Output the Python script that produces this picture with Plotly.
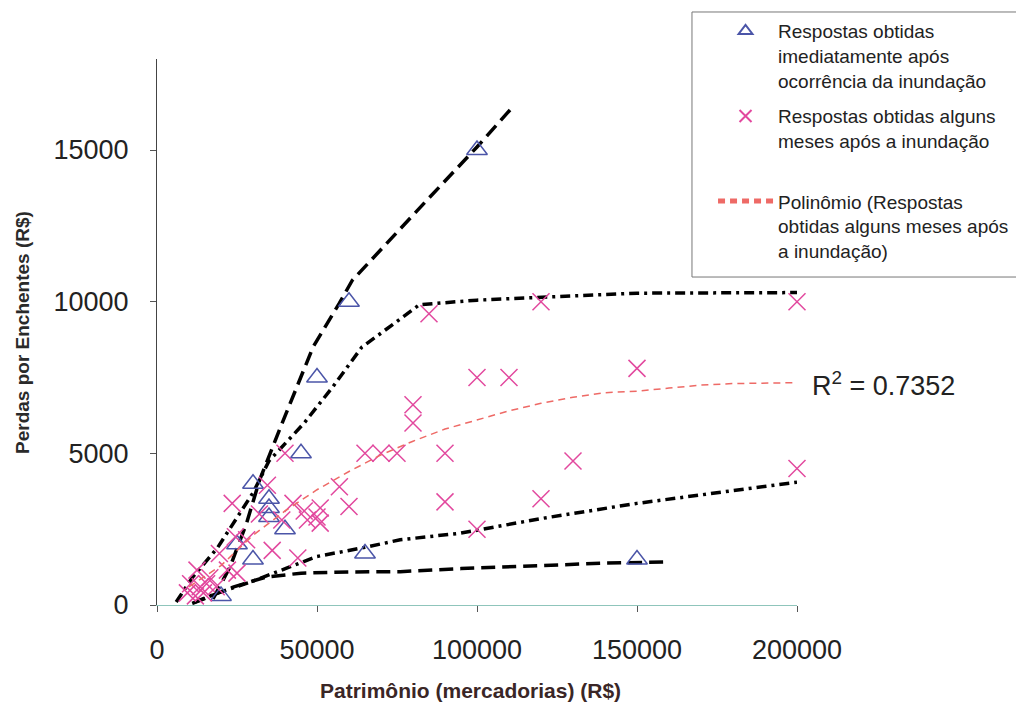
import plotly.graph_objects as go

# ---- data ----
tri_x = [20000, 25000, 30000, 30000, 35000, 35000, 35000, 40000, 45000, 50000, 60000, 65000, 100000, 150000]
tri_y = [300, 2000, 1500, 4000, 3500, 3200, 2900, 2500, 5000, 7500, 10000, 1700, 15000, 1500]

crs_x = [200000, 200000, 150000, 130000, 120000, 120000, 110000, 100000, 100000, 90000,
         90000, 85000, 80000, 80000, 75000, 70000, 65000, 60000, 57000, 51000,
         50000, 46000, 42500, 40000, 39000, 47000, 51000, 34500, 32000, 23500,
         28000, 24500, 36000, 44000, 25000, 19500, 22000, 16500, 12500, 10500,
         13500, 14500, 9500, 18500, 12000, 15500]
crs_y = [10000, 4500, 7800, 4750, 10000, 3500, 7500, 7500, 2500, 5000,
         3400, 9600, 6600, 6000, 5000, 5000, 5000, 3250, 3900, 3200,
         2900, 3100, 3350, 5000, 2800, 2800, 2700, 3950, 3000, 3350,
         2150, 2250, 1800, 1550, 1050, 1700, 1150, 900, 1150, 700,
         600, 400, 400, 600, 300, 700]

trend_x = [10000, 20000, 30000, 40000, 50000, 60000, 70000, 80000, 90000, 100000,
           110000, 120000, 130000, 140000, 150000, 160000, 170000, 180000, 190000, 200000]
trend_y = [600, 1300, 2300, 3100, 3800, 4400, 4950, 5400, 5800, 6100,
           6400, 6650, 6850, 7000, 7050, 7150, 7250, 7300, 7320, 7330]

upA_x = [17500, 22800, 28000, 32000, 38750, 48750, 57000, 61000, 84400, 100000, 111000]
upA_y = [200, 1250, 2700, 4100, 5900, 8500, 9950, 10700, 13350, 15100, 16400]

upB_x = [6000, 11000, 19000, 24500, 30000, 35000, 46000, 55000, 64000, 70500, 82000, 100000, 120000, 150000, 200000]
upB_y = [100, 900, 1900, 2800, 3700, 4750, 6000, 7200, 8500, 9000, 9900, 10050, 10150, 10280, 10300]

lowC_x = [12000, 19000, 29000, 45000, 50000, 65000, 76000, 95000, 120000, 150000, 175000, 200000]
lowC_y = [100, 400, 750, 1400, 1600, 1900, 2150, 2370, 2850, 3350, 3700, 4050]

lowD_x = [11000, 17000, 24000, 34000, 45000, 60000, 76000, 95000, 120000, 140000, 159000]
lowD_y = [50, 300, 600, 920, 1050, 1090, 1100, 1200, 1300, 1380, 1420]

x_ticks = [0, 50000, 100000, 150000, 200000]
y_ticks = [0, 5000, 10000, 15000]

name_tri = "Respostas obtidas<br>imediatamente após<br>ocorrência da inundação"
name_crs = "Respostas obtidas alguns<br>meses após a inundação<br> "
name_trend = "Polinômio (Respostas<br>obtidas alguns meses após<br>a inundação)"

FONT = "Arial, Liberation Sans, sans-serif"
BLUE = "#4b55a8"
PINK = "#e2489e"
RED = "#ee6a66"

fig = go.Figure()

for xs, ys, dash in [(upA_x, upA_y, "14px,7px"), (upB_x, upB_y, "10px,5px,3px,5px"),
                     (lowC_x, lowC_y, "10px,5px,3px,5px"), (lowD_x, lowD_y, "14px,7px")]:
    fig.add_trace(go.Scatter(x=xs, y=ys, mode="lines", showlegend=False,
                             line=dict(color="black", width=3.5, dash=dash),
                             cliponaxis=False, hoverinfo="skip"))

fig.add_trace(go.Scatter(x=tri_x, y=tri_y, mode="markers", name=name_tri, legendgroup="a",
                         marker=dict(symbol="triangle-up-open", size=18, color=BLUE,
                                     line=dict(width=1.5, color=BLUE)),
                         cliponaxis=False))
fig.add_trace(go.Scatter(x=crs_x, y=crs_y, mode="markers", name=name_crs, legendgroup="b",
                         marker=dict(symbol="x-thin-open", size=17, color=PINK,
                                     line=dict(width=1.5, color=PINK)),
                         cliponaxis=False))
fig.add_trace(go.Scatter(x=trend_x, y=trend_y, mode="lines", name=name_trend, legendgroup="c",
                         line=dict(color=RED, width=1.5, dash="7px,5px"),
                         cliponaxis=False))

# figure sits at an 8px page offset; plot area in figure pixels: x 149..789, y 51..597
fig.update_layout(
    width=1016, height=698,
    margin=dict(l=149, r=227, t=51, b=101, autoexpand=False),
    plot_bgcolor="white", paper_bgcolor="white",
    font=dict(family=FONT, color="#222"),
    showlegend=True,
    legend=dict(x=0.8688, y=1.086, xanchor="left", yanchor="top",
                bgcolor="rgba(0,0,0,0)", borderwidth=0,
                font=dict(size=19, family=FONT, color="#222"),
                itemsizing="constant", itemwidth=55, valign="top", tracegroupgap=8,
                traceorder="grouped"),
    xaxis=dict(range=[0, 200000], tickvals=x_ticks, ticktext=[str(v) for v in x_ticks],
               showgrid=False, zeroline=False, showline=True, linecolor="#8fc5bb", linewidth=1,
               ticks="outside", ticklen=6, tickcolor="#555",
               tickfont=dict(size=27, color="#222"), ticklabelstandoff=15),
    yaxis=dict(range=[0, 18000], tickvals=y_ticks, ticktext=[str(v) for v in y_ticks],
               showgrid=False, zeroline=False, showline=True, linecolor="#444", linewidth=1,
               ticks="outside", ticklen=6, tickcolor="#555",
               tickfont=dict(size=27, color="#222"), ticklabelstandoff=16),
    shapes=[dict(type="rect", xref="paper", yref="paper",
                 x0=0.8359, x1=1.3516, y0=0.6007, y1=1.0861,
                 line=dict(color="#777", width=1), fillcolor="white", layer="below")],
    annotations=[
        dict(text="<b>Perdas por Enchentes (R$)</b>", xref="paper", yref="paper",
             x=-0.211, y=0.5, xanchor="center", yanchor="middle", textangle=-90,
             showarrow=False, font=dict(size=19, color="#2a2a2a")),
        dict(text="<b>Patrimônio (mercadorias) (R$)</b>", xref="paper", yref="paper",
             x=0.49, y=-0.156, xanchor="center", yanchor="middle",
             showarrow=False, font=dict(size=21, color="#3a2626")),
        dict(text="R<sup>2</sup> = 0.7352", xref="paper", yref="y",
             x=1.02, y=7300, xanchor="left", yanchor="middle",
             showarrow=False, font=dict(size=27, color="#222")),
    ],
)

fig.write_html("out.html")
